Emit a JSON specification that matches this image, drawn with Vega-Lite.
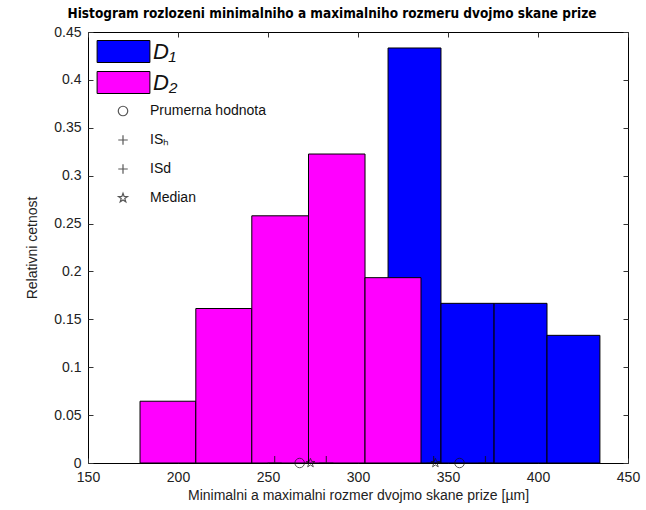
{
  "$schema": "https://vega.github.io/schema/vega-lite/v6.json",
  "width": 540,
  "height": 431,
  "autosize": {"type": "none"},
  "padding": {"left": 88, "top": 32, "right": 18, "bottom": 47},
  "background": "white",
  "title": {
    "text": "Histogram rozlozeni minimalniho a maximalniho rozmeru dvojmo skane prize",
    "font": "'DejaVu Sans Condensed', 'Liberation Sans Narrow', 'Liberation Sans', sans-serif",
    "fontWeight": "bold",
    "fontSize": 13.5,
    "color": "black",
    "anchor": "middle",
    "dx": -26,
    "offset": 5
  },
  "config": {
    "view": {"stroke": "black", "strokeWidth": 1},
    "axis": {
      "labelFont": "Liberation Sans",
      "labelFontSize": 14,
      "labelColor": "#222",
      "labelFlush": false,
      "labelOverlap": false,
      "titleFont": "Liberation Sans",
      "titleFontSize": 14,
      "titleFontWeight": "normal",
      "titleColor": "#222",
      "domain": false,
      "grid": false,
      "tickColor": "#333",
      "tickSize": -5,
      "labelPadding": 12
    },
    "legend": {
      "labelFont": "Liberation Sans",
      "labelColor": "#111"
    }
  },
  "datasets": {
    "bins": [
      {"set": "D₁", "lo": 316.7, "hi": 346.1, "freq": 0.4333},
      {"set": "D₁", "lo": 346.1, "hi": 375.6, "freq": 0.1667},
      {"set": "D₁", "lo": 375.6, "hi": 405.0, "freq": 0.1667},
      {"set": "D₁", "lo": 405.0, "hi": 434.4, "freq": 0.1333},
      {"set": "D₂", "lo": 178.9, "hi": 209.9, "freq": 0.0645},
      {"set": "D₂", "lo": 209.9, "hi": 241.0, "freq": 0.1613},
      {"set": "D₂", "lo": 241.0, "hi": 272.5, "freq": 0.2581},
      {"set": "D₂", "lo": 272.5, "hi": 303.9, "freq": 0.3226},
      {"set": "D₂", "lo": 303.9, "hi": 335.0, "freq": 0.1935}
    ],
    "stats": [
      {"set": "D₂", "stat": "Prumerna hodnota", "value": 267.6},
      {"set": "D₂", "stat": "ISₕ", "value": 282.4},
      {"set": "D₂", "stat": "ISd", "value": 253.7},
      {"set": "D₂", "stat": "Median", "value": 273.6},
      {"set": "D₁", "stat": "Prumerna hodnota", "value": 356.4},
      {"set": "D₁", "stat": "ISₕ", "value": 370.8},
      {"set": "D₁", "stat": "ISd", "value": 342.0},
      {"set": "D₁", "stat": "Median", "value": 343.0}
    ]
  },
  "layer": [
    {
      "data": {"name": "bins"},
      "mark": {"type": "rect", "stroke": "black", "strokeWidth": 1},
      "encoding": {
        "x": {
          "field": "lo", "type": "quantitative",
          "scale": {"domain": [150, 450], "nice": false, "zero": false},
          "axis": {"orient": "bottom", "values": [150, 200, 250, 300, 350, 400, 450], "title": "Minimalni a maximalni rozmer dvojmo skane prize [µm]", "titlePadding": 4}
        },
        "x2": {"field": "hi"},
        "y": {
          "field": "freq", "type": "quantitative",
          "scale": {"domain": [0, 0.45], "nice": false},
          "axis": {"orient": "left", "values": [0, 0.05, 0.1, 0.15, 0.2, 0.25, 0.3, 0.35, 0.4, 0.45], "format": "~g", "title": "Relativni cetnost", "titlePadding": 14}
        },
        "y2": {"datum": 0},
        "fill": {
          "field": "set", "type": "nominal",
          "scale": {"domain": ["D₁", "D₂"], "range": ["#0000ff", "#ff00ff"]},
          "legend": {
            "orient": "none", "legendX": 24, "legendY": 8, "title": null,
            "symbolType": "M-2.4,-1H2.4V1H-2.4Z",
            "symbolSize": 484,
            "symbolStrokeColor": "black",
            "symbolStrokeWidth": 1,
            "labelFont": "Liberation Sans",
            "labelFontStyle": "italic",
            "labelFontSize": 22,
            "labelColor": "#111",
            "labelOffset": 18,
            "rowPadding": 4
          }
        }
      }
    },
    {
      "data": {"name": "stats"},
      "transform": [{"filter": "datum.stat === 'Prumerna hodnota' || datum.stat === 'Median'"}],
      "mark": {"type": "point", "filled": false, "stroke": "#111", "strokeWidth": 1, "size": 90},
      "encoding": {
        "x": {"field": "value", "type": "quantitative", "axis": {"orient": "top", "values": [150, 200, 250, 300, 350, 400, 450], "labels": false, "title": null}},
        "y": {"datum": 0, "type": "quantitative", "axis": {"orient": "right", "values": [0, 0.05, 0.1, 0.15, 0.2, 0.25, 0.3, 0.35, 0.4, 0.45], "labels": false, "title": null}},
        "shape": {
          "field": "stat", "type": "nominal",
          "scale": {"domain": ["Prumerna hodnota", "ISₕ", "ISd", "Median"], "range": ["circle", "M-1,0H1M0,-1V1", "M-1,0H1M0,-1V1", "M0,-1L0.24,-0.33L0.95,-0.31L0.38,0.12L0.59,0.81L0,0.4L-0.59,0.81L-0.38,0.12L-0.95,-0.31L-0.24,-0.33Z"]},
          "legend": {
            "orient": "none", "legendX": 28, "legendY": 72, "title": null,
            "symbolSize": 90,
            "symbolFillColor": "transparent",
            "symbolStrokeColor": "#111",
            "symbolStrokeWidth": 1.2,
            "labelFont": "Liberation Sans",
            "labelFontSize": 14,
            "labelColor": "#111",
            "labelOffset": 20,
            "rowPadding": 13
          }
        }
      }
    },
    {
      "data": {"name": "stats"},
      "transform": [{"filter": "datum.stat === 'ISₕ' || datum.stat === 'ISd'"}],
      "mark": {"type": "point", "filled": false, "stroke": "#111", "strokeWidth": 1.2, "size": 200, "clip": true},
      "encoding": {
        "x": {"field": "value", "type": "quantitative", "axis": null},
        "y": {"datum": 0, "type": "quantitative", "axis": null},
        "shape": {"field": "stat", "type": "nominal"}
      }
    }
  ],
  "resolve": {"axis": {"x": "independent", "y": "independent"}}
}
